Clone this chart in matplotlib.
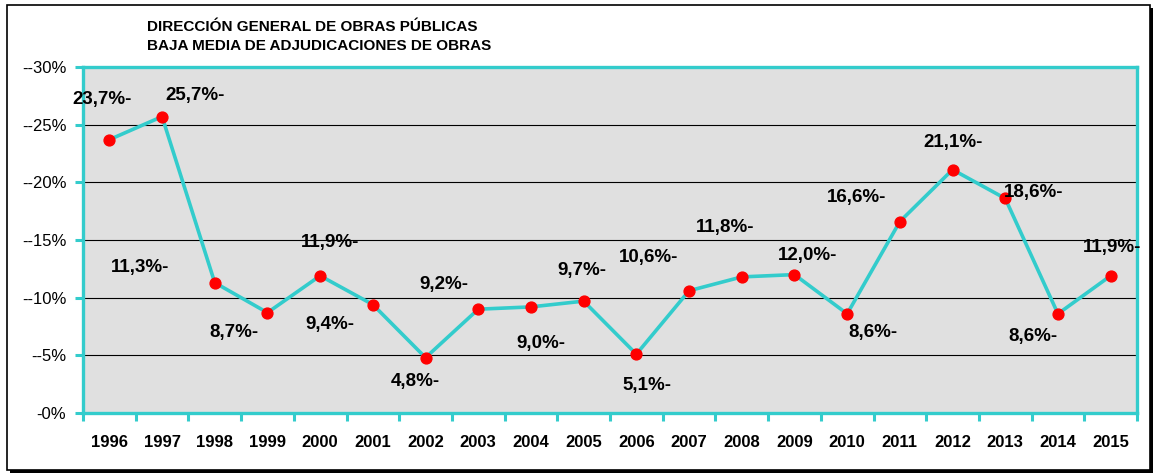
import matplotlib
matplotlib.use("Agg")
import matplotlib.pyplot as plt
from matplotlib.patches import Rectangle

# Average tender discount per year (percent)
years = ["1996", "1997", "1998", "1999", "2000", "2001", "2002", "2003", "2004", "2005",
         "2006", "2007", "2008", "2009", "2010", "2011", "2012", "2013", "2014", "2015"]
baja = [23.7, 25.7, 11.3, 8.7, 11.9, 9.4, 4.8, 9.0, 9.2, 9.7,
        5.1, 10.6, 11.8, 12.0, 8.6, 16.6, 21.1, 18.6, 8.6, 11.9]

y_ticks = [0, 5, 10, 15, 20, 25, 30]
y_tick_labels = ["-0%", "--5%", "--10%", "--15%", "--20%", "--25%", "--30%"]

title_lines = ["DIRECCIÓN GENERAL DE OBRAS PÚBLICAS",
               "BAJA MEDIA DE ADJUDICACIONES DE OBRAS"]

# label placement offsets (pixels) relative to each point
label_offsets = [(-7, 40), (33, 21), (-75, 15), (-34, -20), (10, 33), (-43, -20),
                 (-10, -24), (63, -34), (-87, 22), (-2, 31), (11, -31), (-40, 33),
                 (-17, 49), (13, 19), (26, -19), (-43, 24), (1, 27), (28, 6),
                 (-25, -23), (1, 28)]

TEAL = "#33CCCC"
W, H = 1159, 475
fig = plt.figure(figsize=(W / 100, H / 100), dpi=100)
fig.patch.set_facecolor("white")
plt.rcParams["font.family"] = ["Liberation Sans", "DejaVu Sans"]

# outer frame with drop shadow
fx0, fy0, fx1, fy1 = 7, 5, 1150, 470
shadow = Rectangle(((fx0 + 3) / W, 1 - (fy1 + 3) / H), (fx1 - fx0) / W, (fy1 - fy0) / H,
                   transform=fig.transFigure, facecolor="black", edgecolor="black",
                   linewidth=0, zorder=0)
frame = Rectangle((fx0 / W, 1 - fy1 / H), (fx1 - fx0) / W, (fy1 - fy0) / H,
                  transform=fig.transFigure, facecolor="white", edgecolor="black",
                  linewidth=1.2, zorder=0.5)
fig.patches.extend([shadow, frame])

ax = fig.add_axes([83 / W, 1 - 413 / H, (1137 - 83) / W, (413 - 67) / H])
ax.set_facecolor("#E0E0E0")
ax.set_zorder(1)

x = list(range(len(years)))
ax.plot(x, baja, color=TEAL, linewidth=2.6, zorder=3)
ax.plot(x, baja, linestyle="none", marker="o", markersize=7.8,
        markerfacecolor="#FF0000", markeredgecolor="#FF0000", zorder=4)

for xi, v, (dx, dy) in zip(x, baja, label_offsets):
    txt = f"{v:.1f}".replace(".", ",") + "%-"
    ax.annotate(txt, (xi, v), xytext=(dx, dy), textcoords="offset pixels",
                ha="center", va="center", fontsize=13.5, fontweight="bold",
                color="black", zorder=5, annotation_clip=False)

ax.set_xlim(-0.5, len(years) - 0.5)
ax.set_ylim(0, 30)

ax.set_yticks(y_ticks)
ax.set_yticklabels(y_tick_labels, fontsize=12)
ax.tick_params(axis="y", direction="out", length=6, width=2.2, color=TEAL, pad=6)

ax.set_xticks(x)
ax.set_xticklabels(years, fontsize=12, fontweight="bold")
ax.set_xticks([i - 0.5 for i in range(len(years) + 1)], minor=True)
ax.tick_params(axis="x", which="major", length=0, pad=16)
ax.tick_params(axis="x", which="minor", direction="out", length=6, width=2.2, color=TEAL)

for gy in y_ticks[1:-1]:
    ax.axhline(gy, color="black", linewidth=0.8, zorder=1)

for s in ax.spines.values():
    s.set_color(TEAL)
    s.set_linewidth(2.4)

fig.text(147 / W, 1 - 27 / H, title_lines[0], fontsize=11, fontweight="bold",
         ha="left", va="center")
fig.text(147 / W, 1 - 46.5 / H, title_lines[1], fontsize=11, fontweight="bold",
         ha="left", va="center")

fig.savefig("out.png", dpi=100, facecolor="white")
